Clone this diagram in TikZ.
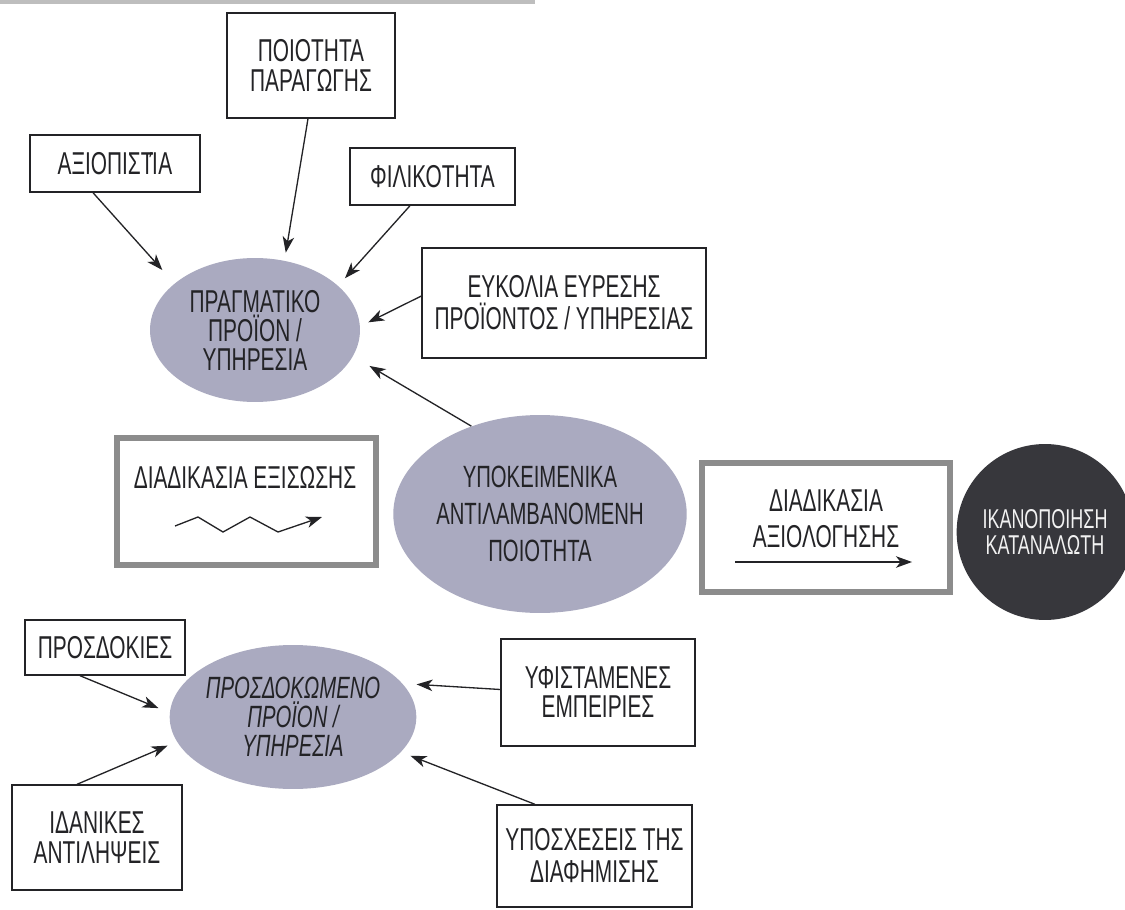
\documentclass[tikz,border=0pt]{standalone}
\usepackage{fontspec}
\setmainfont{Liberation Sans}[FakeStretch=0.66]
\usetikzlibrary{shapes.geometric,arrows.meta,calc}
\definecolor{ink}{RGB}{35,35,38}
\definecolor{ovalfill}{RGB}{170,170,192}
\definecolor{darkoval}{RGB}{55,55,60}
\definecolor{frame}{RGB}{140,140,140}
\definecolor{strip}{RGB}{190,190,190}
\begin{document}
\begin{tikzpicture}[x=0.02cm,y=-0.02cm,
  every node/.style={text=ink, align=center, inner sep=0pt},
  box/.style={draw=ink, line width=0.8pt, fill=white, font=\fontsize{18}{17.5}\selectfont},
  oval/.style={ellipse, fill=ovalfill, font=\fontsize{18}{16.5}\selectfont},
  procbox/.style={draw=frame, line width=2.9pt},
  lbl/.style={font=\fontsize{18}{17.5}\selectfont},
  link/.style={draw=ink, line width=0.75pt, -{Stealth[length=3.2mm,width=2.3mm,inset=0.9mm]}},
]
\useasboundingbox (0,0) rectangle (1125,909);
\fill[white] (0,0) rectangle (1125,909);
\fill[strip] (0,0) rectangle (535,4);

% upper cluster: the product as actually delivered
\node[box, minimum width=3.36cm, minimum height=2.10cm] (ppar) at (311,65.5) {ΠΟΙΟΤΗΤΑ\\ΠΑΡΑΓΩΓΗΣ};
\node[box, minimum width=3.40cm, minimum height=1.14cm] (axi) at (115,163.5) {ΑΞΙΟΠΙΣΤ\kern-0.12em Ί\kern0.02em Α};
\node[box, minimum width=3.30cm, minimum height=1.14cm] (fil) at (432.5,176.5) {ΦΙΛΙΚΟΤΗΤΑ};
\node[box, minimum width=5.68cm, minimum height=2.20cm, font=\fontsize{18}{18.2}\selectfont] (euk) at (564,303) {ΕΥΚΟΛΙΑ ΕΥΡΕΣΗΣ\\ΠΡΟΪΟΝΤΟΣ / ΥΠΗΡΕΣΙΑΣ};
\node[oval, minimum width=4.2cm, minimum height=2.88cm] (prag) at (255,330) {ΠΡΑΓΜΑΤΙΚΟ\\ΠΡΟΪΟΝ /\\ΥΠΗΡΕΣΙΑ};

% centre row
\node[oval, minimum width=5.86cm, minimum height=3.96cm, font=\fontsize{17.5}{21}\selectfont] (ypok) at (540,514) {ΥΠΟΚΕΙΜΕΝΙΚΑ\\ΑΝΤΙΛΑΜΒΑΝΟΜΕΝΗ\\ΠΟΙΟΤΗΤΑ};

\node[procbox, minimum width=5.18cm, minimum height=2.54cm] (exis) at (246.5,501.5) {};
\node[lbl] (exist) at (245,477) {ΔΙΑΔΙΚΑΣΙΑ ΕΞΙΣΩΣΗΣ};
\coordinate (z0) at (175,526);
\coordinate (z5) at (322,517);
\draw[link] (z0) -- (198,517) -- (223,532) -- (250,517) -- (278,532) -- (z5);

\node[procbox, minimum width=4.96cm, minimum height=2.58cm] (axiol) at (826,527.5) {};
\node[font=\fontsize{18}{20.5}\selectfont] (axiolt) at (826,519) {ΔΙΑΔΙΚΑΣΙΑ\\ΑΞΙΟΛΟΓΗΣΗΣ};
\coordinate (ea) at (735,562);
\coordinate (eb) at (912,562);
\draw[link] (ea) -- (eb);

\node[ellipse, fill=darkoval, minimum width=2.8cm, minimum height=3.52cm, text=white!90!gray, font=\fontsize{15.5}{14.5}\selectfont] (ikan) at (1045,532) {ΙΚΑΝΟΠΟΙΗΣΗ\\ΚΑΤΑΝΑΛΩΤΗ};

% lower cluster: the expected product
\node[oval, minimum width=4.2cm, minimum height=2.88cm, font=\itshape\fontsize{17.5}{16.5}\selectfont] (pros) at (293,717) {ΠΡΟΣΔΟΚΩΜΕΝΟ\\ΠΡΟΪΟΝ /\\ΥΠΗΡΕΣΙΑ};
\node[box, minimum width=3.20cm, minimum height=1.10cm] (prosd) at (105,647.5) {ΠΡΟΣΔΟΚΙΕΣ};
\node[box, minimum width=3.40cm, minimum height=2.10cm] (idan) at (97,837.5) {ΙΔΑΝΙΚΕΣ\\ΑΝΤΙΛΗΨΕΙΣ};
\node[box, minimum width=3.88cm, minimum height=2.14cm, font=\fontsize{18}{16.5}\selectfont] (yfis) at (598,692.5) {ΥΦΙΣΤΑΜΕΝΕΣ\\ΕΜΠΕΙΡΙΕΣ};
\node[box, minimum width=3.90cm, minimum height=2.04cm, font=\fontsize{18}{18.2}\selectfont] (ypos) at (594.5,856) {ΥΠΟΣΧΕΣΕΙΣ ΤΗΣ\\ΔΙΑΦΗΜΙΣΗΣ};

% connectors
\draw[link, shorten >=0.36cm] ($(axi.south)+(-22,0)$) -- (prag.150);
\draw[link, shorten >=0.16cm] ($(ppar.south)+(-3,0)$) -- (prag.67);
\draw[link, shorten >=0.20cm] ($(fil.south)+(-22.5,0)$) -- (prag.28);
\draw[link, shorten >=0.18cm] ($(euk.west)+(0,-7)$) -- (prag.2);
\draw[link, shorten >=0.38cm] (ypok.128) -- (prag.-15);

\draw[link, shorten >=0.24cm] ($(prosd.south)+(-25,0)$) -- (pros.178);
\draw[link, shorten >=0.20cm] ($(idan.north)+(-20,0)$) -- (pros.192);
\draw[link, shorten >=0.28cm] ($(yfis.west)+(0,-3)$) -- (pros.17);
\draw[link, shorten >=0.20cm] ($(ypos.north)+(-59.5,0)$) -- (pros.-18);
\end{tikzpicture}
\end{document}
